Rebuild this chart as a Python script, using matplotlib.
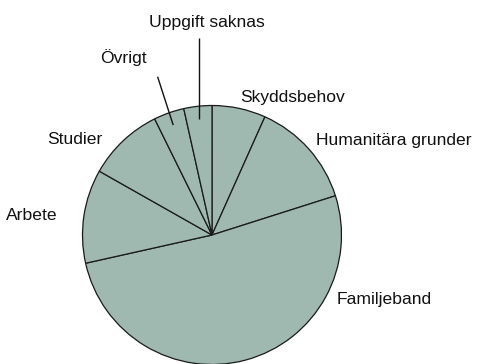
import numpy as np
import matplotlib
matplotlib.use("Agg")
import matplotlib.pyplot as plt

# Grounds for residence permits, share of total (%)
categories = ["Skyddsbehov", "Humanitära grunder", "Familjeband", "Arbete",
              "Studier", "Övrigt", "Uppgift saknas"]
shares = [6.7, 13.4, 51.4, 11.7, 9.5, 3.8, 3.5]

plt.rcParams["font.family"] = ["Liberation Sans", "DejaVu Sans"]

W, H = 480, 364
fig = plt.figure(figsize=(W / 100, H / 100), dpi=100)
fig.patch.set_facecolor("white")

# square axes in pixels so the pie is a true circle
cx, cy, r = 212.0, 235.0, 129.5
ax = fig.add_axes([(cx - r) / W, (H - cy - r) / H, 2 * r / W, 2 * r / H])

wedges, _ = ax.pie(
    shares,
    startangle=90,
    counterclock=False,
    colors=["#9fb8b0"] * len(shares),
    wedgeprops=dict(edgecolor="#1a1a1a", linewidth=0.9),
)
ax.set_xlim(-1, 1)
ax.set_ylim(-1, 1)
ax.set_aspect("equal")
ax.axis("off")

# label placement (data units, radius = 1): x, y, horizontal alignment
label_pos = {
    "Skyddsbehov": (0.625, 1.03, "center"),
    "Humanitära grunder": (0.80, 0.695, "left"),
    "Familjeband": (0.965, -0.535, "left"),
    "Arbete": (-1.39, 0.116, "center"),
    "Studier": (-1.062, 0.703, "center"),
    "Övrigt": (-0.687, 1.326, "center"),
    "Uppgift saknas": (-0.04, 1.606, "center"),
}
fs = 12.6

for w, name in zip(wedges, categories):
    x, y, ha = label_pos[name]
    ax.text(x, y, name, ha=ha, va="baseline", fontsize=fs, color="#111111",
            clip_on=False)

# leader lines for the two thin slices
def mid_point(w, rad):
    ang = np.deg2rad((w.theta1 + w.theta2) / 2)
    return rad * np.cos(ang), rad * np.sin(ang)

# Övrigt: slanted leader
x0, y0 = mid_point(wedges[5], 0.9)
ax.plot([x0, -0.42], [y0, 1.222], color="#111111", lw=1.0, clip_on=False,
        solid_capstyle="butt")
# Uppgift saknas: vertical leader
x1, y1 = mid_point(wedges[6], 0.9)
ax.plot([x1, x1], [y1, 1.52], color="#111111", lw=1.0, clip_on=False,
        solid_capstyle="butt")

fig.savefig("out.png", dpi=100, facecolor="white")
